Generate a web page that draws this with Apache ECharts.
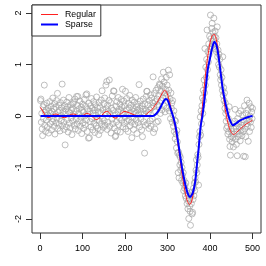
<!DOCTYPE html>
<html><head><meta charset="utf-8">
<script src="https://cdn.jsdelivr.net/npm/echarts@6/dist/echarts.min.js"></script>
<style>html,body{margin:0;padding:0;background:#fff}#c{width:266px;height:266px}</style>
</head><body><div id="c"></div>
<script>
// observed values (index = x, 1..500)
var obsY = [
0.30,0.33,-0.12,0.05,-0.25,-0.38,0.18,-0.05,0.22,0.60,-0.18,0.08,-0.30,0.12,-0.08,0.25,-0.22,0.02,0.15,-0.33,0.10,-0.02,0.28,-0.15,0.05,
0.19,-0.27,0.09,-0.11,0.35,-0.06,0.14,-0.20,0.24,-0.35,0.03,0.17,-0.13,0.30,-0.04,0.44,-0.24,0.07,0.21,-0.16,0.11,-0.29,0.26,-0.09,0.01,
0.16,0.62,-0.19,0.08,0.31,-0.12,-0.26,0.20,-0.56,0.04,0.13,-0.21,0.27,-0.07,0.18,-0.31,0.09,0.36,-0.14,0.06,-0.23,0.22,-0.03,0.12,-0.36,
0.15,-0.10,0.24,0.27,-0.18,0.03,0.33,-0.25,0.10,-0.06,0.38,-0.15,0.21,0.38,-0.28,0.05,0.14,-0.09,0.29,-0.20,-0.02,0.17,-0.34,0.11,0.23,
-0.13,0.07,-0.24,0.32,0.00,-0.17,0.19,0.41,-0.08,0.43,-0.30,0.13,0.04,-0.43,0.25,-0.42,0.09,-0.11,0.20,-0.21,0.34,-0.05,0.15,-0.27,0.06,
0.28,-0.14,0.11,-0.32,0.22,0.02,-0.19,0.37,-0.07,0.16,-0.24,0.08,-0.36,0.26,-0.10,0.18,-0.28,0.05,0.31,-0.16,0.49,-0.04,0.12,-0.22,0.24,
-0.09,0.35,-0.18,0.07,0.60,0.14,0.67,-0.26,0.21,-0.12,0.09,0.30,0.70,-0.20,0.04,0.26,-0.33,0.15,-0.06,0.39,-0.15,0.11,0.49,0.48,-0.23,
0.02,-0.40,-0.38,0.19,-0.11,0.28,-0.29,0.08,0.36,-0.17,0.13,-0.04,0.23,-0.31,0.10,0.32,-0.08,0.17,0.52,-0.21,0.06,0.29,-0.14,0.20,-0.02,
0.48,-0.25,0.12,0.34,-0.10,0.03,-0.30,0.25,-0.07,0.16,0.40,-0.19,0.07,0.21,-0.12,-0.42,0.31,-0.03,0.14,-0.26,0.09,0.27,-0.16,0.05,0.36,
-0.08,0.18,-0.34,0.11,0.23,-0.13,0.02,0.61,-0.21,0.15,0.29,-0.06,0.08,-0.27,0.20,-0.40,0.13,0.33,-0.11,0.04,-0.72,0.24,-0.18,0.10,0.38,
0.48,0.48,-0.15,0.22,0.07,-0.24,0.30,0.12,-0.09,0.41,-0.20,0.16,0.35,-0.05,0.26,0.76,-0.32,0.19,0.44,-0.25,0.28,0.08,0.50,-0.12,0.33,
0.22,0.55,-0.10,0.40,0.18,0.62,0.60,0.05,0.48,0.30,0.72,0.12,0.58,0.35,0.85,0.20,0.66,0.45,0.08,0.52,0.38,0.75,0.15,0.60,0.42,
0.28,0.89,0.50,0.10,0.80,0.33,-0.05,0.45,0.15,0.25,-0.12,0.30,0.02,-0.20,0.10,-0.30,-0.08,-0.44,-0.10,-0.35,-0.62,-0.28,-0.50,-0.72,-1.10,
-0.70,-1.20,-0.76,-0.95,-0.80,-1.05,-0.90,-1.25,-1.00,-1.15,-1.30,-1.10,-1.45,-1.25,-1.40,-1.35,-1.55,-1.30,-1.60,-1.45,-1.70,-1.50,-1.80,-1.65,-1.99,
-1.60,-1.75,-1.85,-2.12,-1.55,-1.70,-1.48,-1.90,-1.87,-1.62,-1.40,-1.55,-1.30,-1.45,-1.20,-1.28,-1.05,-0.85,-1.10,-0.95,-0.75,-0.80,-1.34,-0.55,-0.40,
-0.30,-0.02,-0.37,0.10,-0.15,0.20,0.35,0.05,0.50,0.30,0.70,0.45,1.31,0.60,0.95,0.75,1.10,1.67,0.90,1.25,1.05,1.40,1.20,1.55,1.30,
1.96,1.50,1.35,1.70,1.80,1.45,1.62,1.38,1.90,1.55,1.48,1.65,1.30,1.52,1.25,1.40,1.73,1.15,1.28,1.00,1.20,0.95,1.10,0.80,0.70,
0.90,0.60,0.75,0.50,1.15,0.40,0.55,0.30,0.45,0.15,0.25,0.05,-0.10,-0.24,0.10,-0.20,-0.35,-0.05,-0.30,0.18,-0.45,-0.59,-0.76,-0.25,-0.40,
-0.30,-0.50,-0.15,-0.42,-0.60,-0.25,-0.35,-0.10,0.13,-0.45,-0.20,-0.55,-0.30,-0.77,-0.05,-0.40,-0.15,0.05,-0.35,-0.22,-0.48,0.10,-0.28,-0.12,-0.38,
-0.18,0.02,-0.30,-0.78,-0.08,0.20,-0.25,-0.79,-0.40,0.05,-0.15,0.31,-0.20,0.12,-0.49,-0.10,0.25,-0.30,0.00,-0.12,0.18,-0.22,0.08,-0.05,0.15
];

// "Regular" fit (red)
var regX = [1,6,12,18,24,30,38,46,54,62,70,78,86,94,102,110,118,126,132,138,146,153,159,165,171,178,185,193,200,207,214,222,230,238,245,252,258,264,270,276,282,288,293,298,303,308,313,318,324,330,336,342,347,352,357,362,367,372,377,382,388,394,400,405,410,415,420,425,430,435,440,445,450,456,462,470,478,486,494,500];
var regY = [0.17,0.10,0.02,-0.03,-0.02,0.02,0.04,0.01,-0.03,-0.02,0.02,0.04,0.02,-0.01,0.02,0.05,0.03,-0.04,-0.07,-0.05,0.02,0.08,0.09,0.04,-0.02,-0.04,0.00,0.07,0.09,0.07,0.05,0.02,0.01,0.00,0.00,0.05,0.09,0.13,0.20,0.27,0.36,0.45,0.50,0.46,0.33,0.16,-0.02,-0.22,-0.52,-0.88,-1.22,-1.50,-1.66,-1.72,-1.65,-1.42,-1.10,-0.72,-0.28,0.18,0.70,1.12,1.42,1.56,1.59,1.48,1.22,0.86,0.50,0.18,-0.06,-0.22,-0.32,-0.36,-0.32,-0.26,-0.20,-0.15,-0.11,-0.08];

// "Sparse" fit (blue)
var spX = [1,262,268,274,280,286,291,296,300,305,310,314,320,327,334,341,347,353,359,365,370,373,378,382,386,390,395,400,405,410,415,420,425,430,435,440,446,454,462,470,480,490,500];
var spY = [0,0,0.01,0.05,0.12,0.21,0.29,0.33,0.31,0.20,0.07,-0.03,-0.25,-0.62,-1.00,-1.30,-1.49,-1.57,-1.50,-1.28,-0.88,-0.65,-0.20,0.00,0.25,0.55,0.92,1.12,1.32,1.44,1.38,1.16,0.84,0.52,0.30,0.12,-0.06,-0.18,-0.14,-0.09,-0.05,-0.02,0.00];

var xTicks = [0,100,200,300,400,500];
var yTicks = [-2,-1,0,1,2];
var seriesNames = ['Regular','Sparse'];

var pts = obsY.map(function(v,i){return [i+1,v];});
function pair(xs,ys){return xs.map(function(x,i){return [x,ys[i]];});}

var font = 'Liberation Sans, Arial, Helvetica, sans-serif';
var chart = echarts.init(document.getElementById('c'), null, {renderer:'canvas'});
chart.setOption({
  animation:false,
  backgroundColor:'#fff',
  grid:{left:32,right:5,top:5,bottom:33,show:true,borderColor:'#333',borderWidth:1,containLabel:false,outerBoundsMode:'none'},
  xAxis:{type:'value',min:-18.96,max:519.96,position:'bottom',
    axisLine:{show:false,onZero:false},splitLine:{show:false},
    axisTick:{show:true,length:6,customValues:xTicks,lineStyle:{color:'#333',width:1}},
    axisLabel:{customValues:xTicks,margin:11,fontSize:9,color:'#000',fontFamily:font,showMinLabel:true,showMaxLabel:true}},
  yAxis:{type:'value',min:-2.27,max:2.155,position:'left',
    axisLine:{show:false,onZero:false},splitLine:{show:false},
    axisTick:{show:true,length:6,customValues:yTicks,lineStyle:{color:'#333',width:1}},
    axisLabel:{customValues:yTicks,rotate:90,margin:9,fontSize:9,color:'#000',fontFamily:font}},
  legend:{data:[{name:seriesNames[0],lineStyle:{width:1}},{name:seriesNames[1],lineStyle:{width:2}}],
    orient:'vertical',left:32,top:5,
    itemWidth:17,itemHeight:10,itemGap:1,itemStyle:{opacity:0},
    padding:[5,5,7,8],borderColor:'#333',borderWidth:1,backgroundColor:'#fff',
    textStyle:{fontSize:8.8,color:'#000',fontFamily:font,padding:[0,0,0,2]}},
  series:[
    {type:'scatter',name:'obs',data:pts,symbol:'circle',symbolSize:6,
      itemStyle:{color:'rgba(0,0,0,0)',borderColor:'#a6a6a6',borderWidth:0.9},z:1,silent:true},
    {type:'line',name:seriesNames[0],data:pair(regX,regY),showSymbol:false,symbol:'none',smooth:0.25,
      color:'#ff2020',lineStyle:{color:'#ff2020',width:1},z:2},
    {type:'line',name:seriesNames[1],data:pair(spX,spY),showSymbol:false,symbol:'none',smooth:0.25,
      color:'#0000ff',lineStyle:{color:'#0000ff',width:2},z:3}
  ]
});
</script></body></html>
